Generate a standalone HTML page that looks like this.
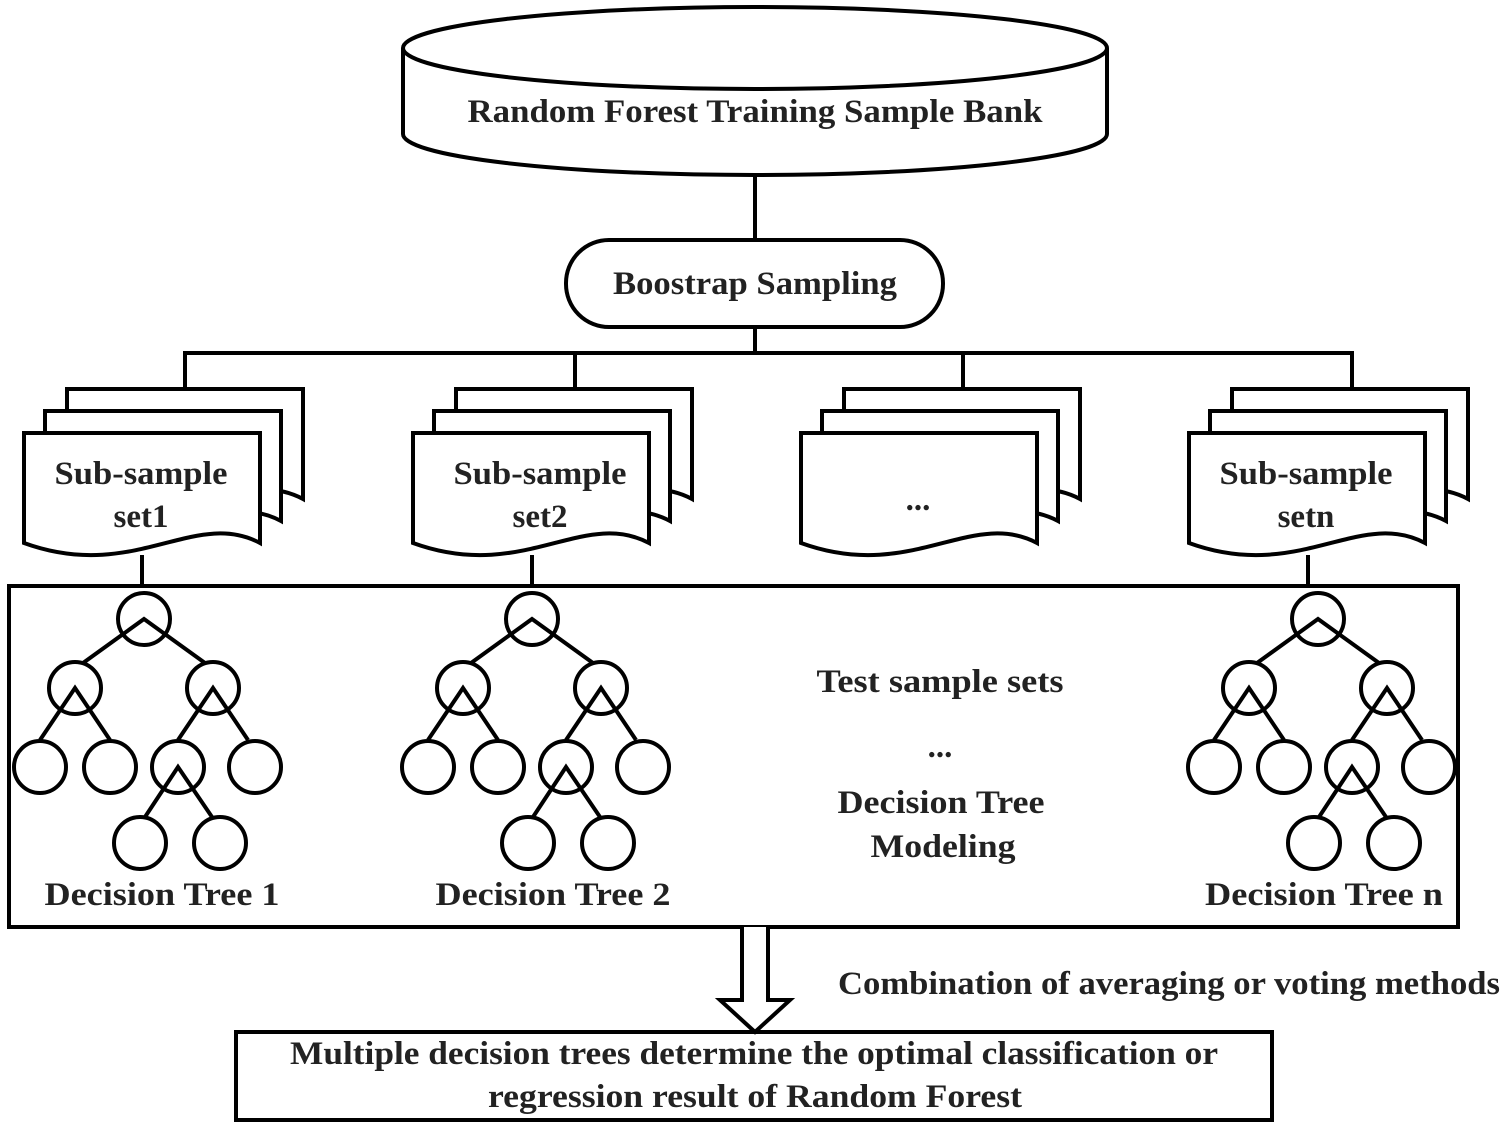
<!DOCTYPE html>
<html><head><meta charset="utf-8"><style>html,body{margin:0;padding:0;background:#fff}svg{display:block}</style></head>
<body>
<svg width="1504" height="1127" viewBox="0 0 1504 1127" xmlns="http://www.w3.org/2000/svg">
<defs>
<g id="tree" fill="#fff" stroke="#000" stroke-width="4">
<circle cx="144" cy="619" r="26"/>
<circle cx="75" cy="688" r="26"/><circle cx="213" cy="688" r="26"/>
<circle cx="40" cy="767" r="26"/><circle cx="110" cy="767" r="26"/><circle cx="178" cy="767" r="26"/><circle cx="255" cy="767" r="26"/>
<circle cx="140" cy="843" r="26"/><circle cx="220" cy="843" r="26"/>
<path fill="none" d="M83,663 L144,619 L205,663 M40,740 L75,688 L110,740 M178,740 L213,688 L248,740 M145,817 L178,767 L212,817"/>
</g>
<g id="doc" fill="#fff" stroke="#000" stroke-width="4">
<path d="M0,0 H236 V110 C170,75 110,150 0,110 Z"/>
</g>
<g id="stack">
<use href="#doc" x="43" y="-44"/>
<use href="#doc" x="21" y="-22"/>
<use href="#doc" x="0" y="0"/>
</g>
</defs>
<g stroke="#000" stroke-width="4" fill="none">
<path d="M403,48 V134 A352,41 0 0 0 1107,134 V48" fill="#fff"/>
<ellipse cx="755" cy="48" rx="352" ry="41" fill="#fff"/>
<line x1="755" y1="175" x2="755" y2="240"/>
<rect x="566" y="240" width="377" height="87" rx="43" fill="#fff"/>
<line x1="755" y1="327" x2="755" y2="353"/>
<path d="M185,390 V353 H1352 V390 M575,353 V390 M963,353 V390"/>
<line x1="142" y1="555" x2="142" y2="586"/>
<line x1="532" y1="555" x2="532" y2="586"/>
<line x1="1308" y1="555" x2="1308" y2="586"/>
<rect x="9" y="586" width="1449" height="341" fill="#fff"/>
<rect x="236" y="1032" width="1036" height="88" fill="#fff"/>
<path d="M742,927 V1000 H720 L755,1032 L790,1000 H768 V927" fill="#fff"/>
</g>
<use href="#stack" x="24" y="433"/>
<use href="#stack" x="413" y="433"/>
<use href="#stack" x="801" y="433"/>
<use href="#stack" x="1189" y="433"/>
<use href="#tree" x="0" y="0"/>
<use href="#tree" x="388" y="0"/>
<use href="#tree" x="1174" y="0"/>
<g font-family="Liberation Serif, serif" font-weight="bold" font-size="33" fill="#222" text-anchor="middle">
<text x="755" y="122" textLength="575" lengthAdjust="spacingAndGlyphs">Random Forest Training Sample Bank</text>
<text x="755" y="294" textLength="284" lengthAdjust="spacingAndGlyphs">Boostrap Sampling</text>
<text x="141" y="484" textLength="173" lengthAdjust="spacingAndGlyphs">Sub-sample</text>
<text x="141" y="527">set1</text>
<text x="540" y="484" textLength="173" lengthAdjust="spacingAndGlyphs">Sub-sample</text>
<text x="540" y="527">set2</text>
<text x="918" y="510">...</text>
<text x="1306" y="484" textLength="173" lengthAdjust="spacingAndGlyphs">Sub-sample</text>
<text x="1306" y="527">setn</text>
<text x="162" y="905" textLength="235" lengthAdjust="spacingAndGlyphs">Decision Tree 1</text>
<text x="553" y="905" textLength="235" lengthAdjust="spacingAndGlyphs">Decision Tree 2</text>
<text x="1324" y="905" textLength="238" lengthAdjust="spacingAndGlyphs">Decision Tree n</text>
<text x="940" y="692" textLength="247" lengthAdjust="spacingAndGlyphs">Test sample sets</text>
<text x="940" y="757">...</text>
<text x="941" y="813" textLength="207" lengthAdjust="spacingAndGlyphs">Decision Tree</text>
<text x="943" y="857" textLength="145" lengthAdjust="spacingAndGlyphs">Modeling</text>
<text x="1169" y="994" textLength="662" lengthAdjust="spacingAndGlyphs">Combination of averaging or voting methods</text>
<text x="754" y="1064" textLength="928" lengthAdjust="spacingAndGlyphs">Multiple decision trees determine the optimal classification or</text>
<text x="755" y="1107" textLength="534" lengthAdjust="spacingAndGlyphs">regression result of Random Forest</text>
</g>
</svg>
</body></html>
